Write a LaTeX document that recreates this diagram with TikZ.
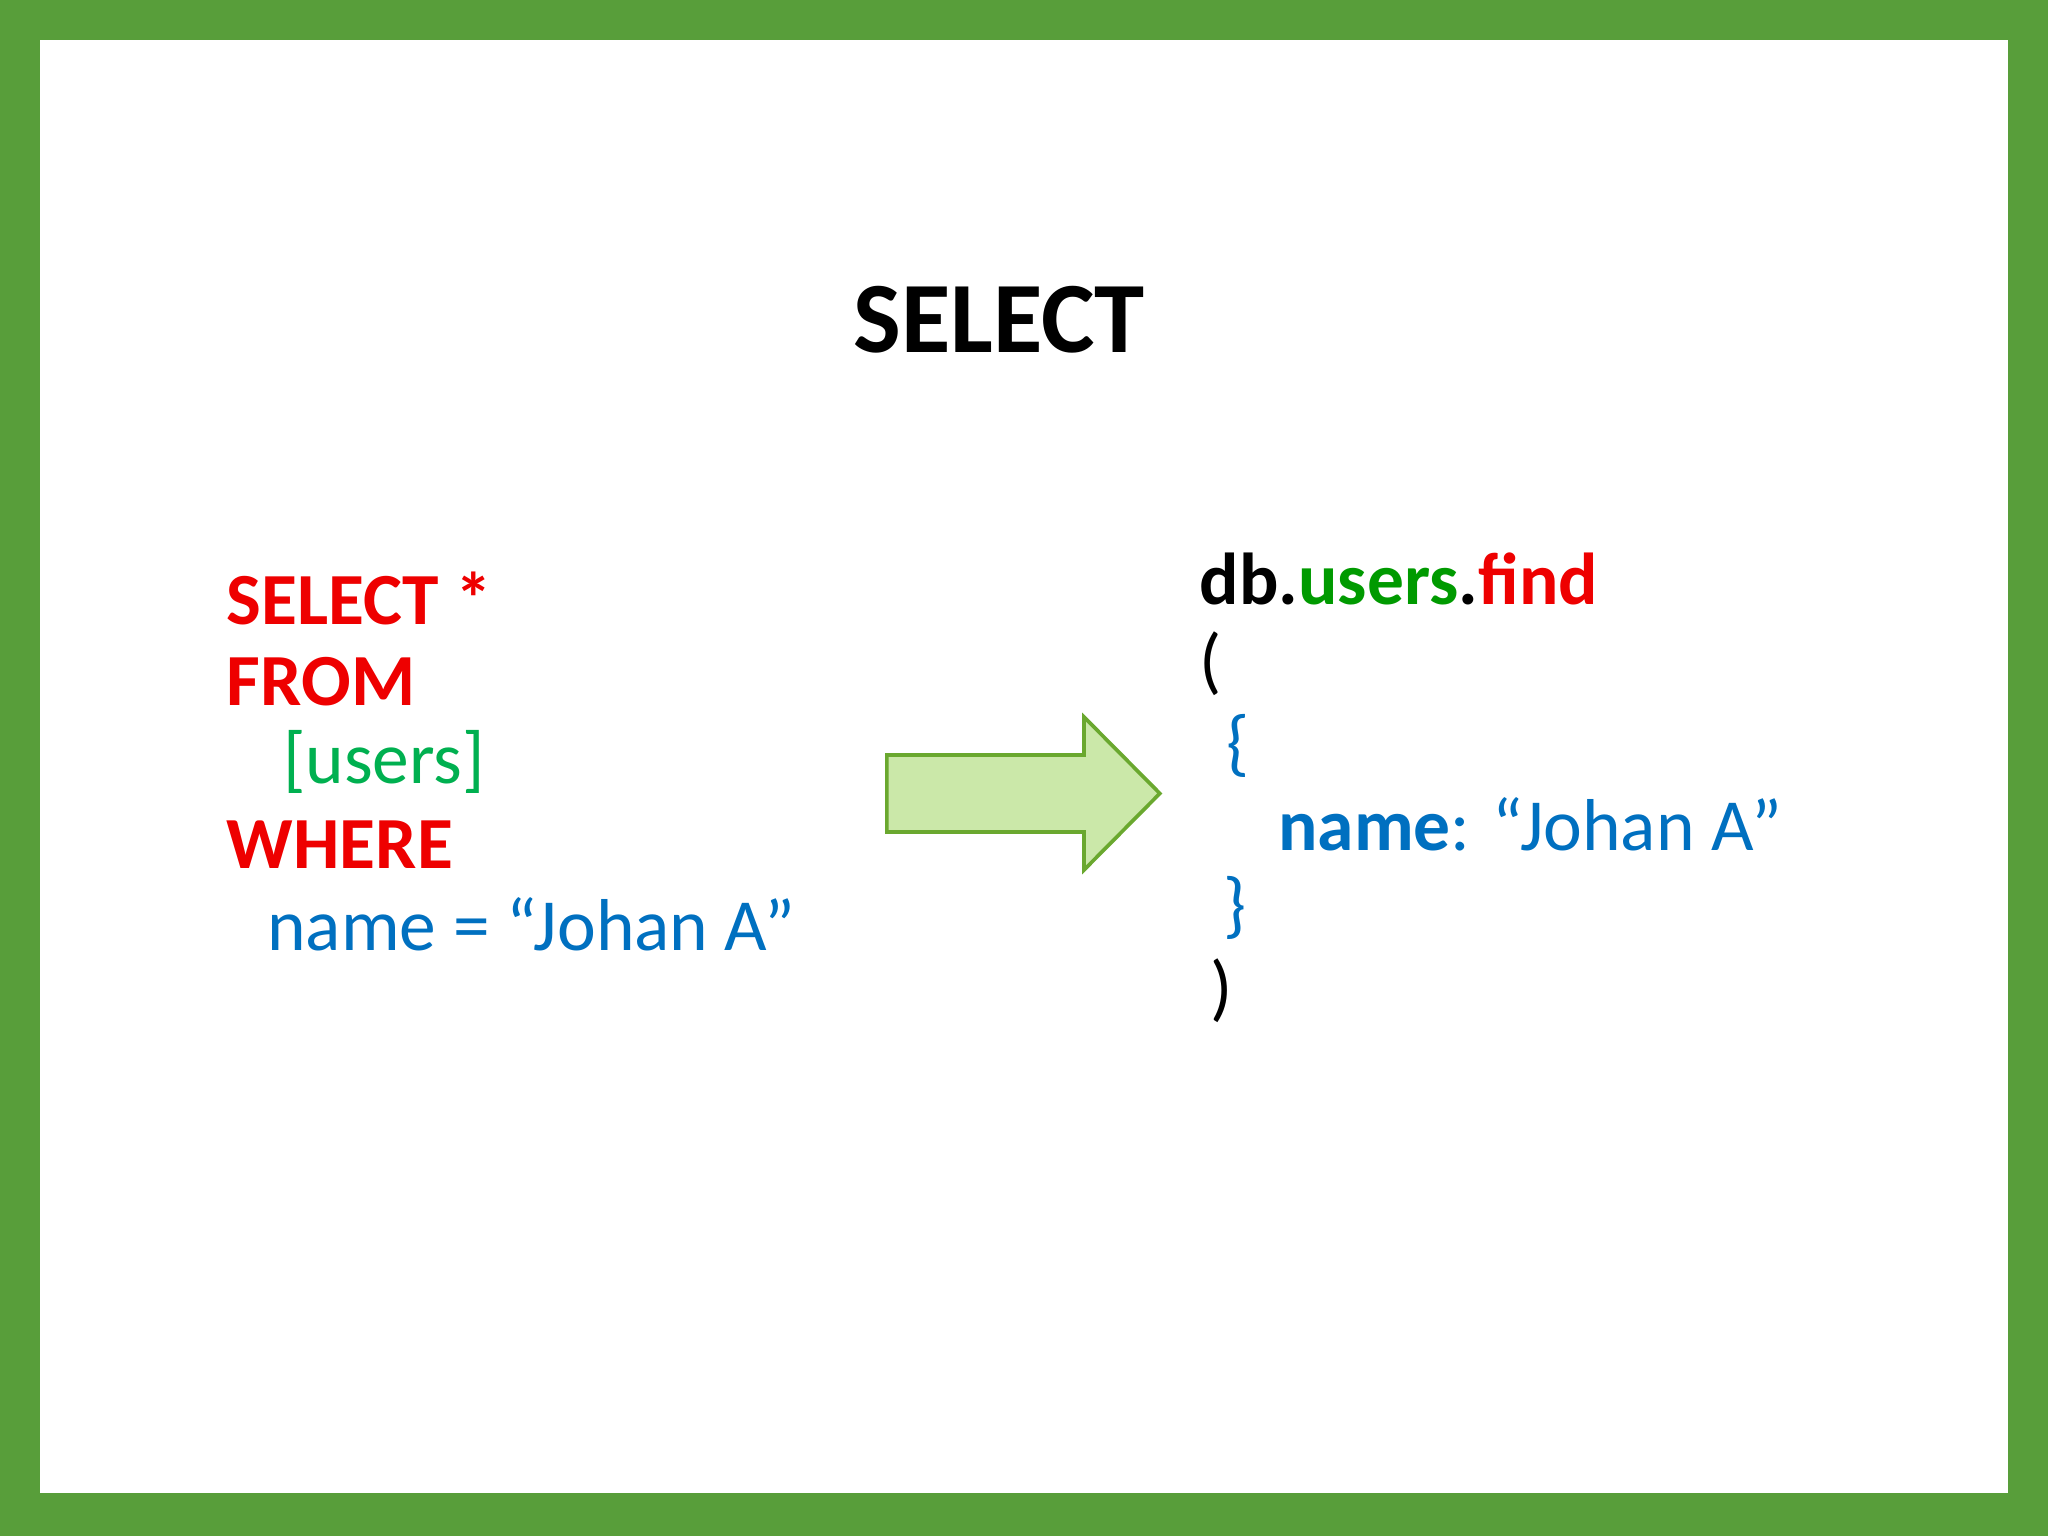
\documentclass[tikz,border=0pt]{standalone}
\usepackage{fontspec}
\setmainfont{Carlito}
\definecolor{frame}{HTML}{589E3A}
\definecolor{sqlred}{HTML}{EE0000}
\definecolor{sqlgreen}{HTML}{00B050}
\definecolor{mgreen}{HTML}{009A00}
\definecolor{mblue}{HTML}{0070C0}
\definecolor{arrowfill}{HTML}{CBE8A9}
\definecolor{arrowline}{HTML}{6AA82F}
\begin{document}
\begin{tikzpicture}[x=0.01cm,y=-0.01cm,
  txt/.style={anchor=base west,inner sep=0pt,font=\fontsize{16}{19}\selectfont}]
\fill[frame] (0,0) rectangle (1568,1176);
\fill[white] (31,31) rectangle (1537,1143);
\useasboundingbox (0,0) rectangle (1568,1176);
\node[anchor=base,inner sep=0pt,font=\fontsize{22}{26}\selectfont\bfseries] (title) at (765,270) {SELECT};
\node[txt,text=sqlred,font=\fontsize{16}{19}\selectfont\bfseries] (l1) at (173,478) {SELECT *};
\node[txt,text=sqlred,font=\fontsize{16}{19}\selectfont\bfseries] (l2) at (173,540) {FROM};
\node[txt,text=sqlgreen] (l3) at (216,600) {[users]};
\node[txt,text=sqlred,font=\fontsize{16}{19}\selectfont\bfseries] (l4) at (173,665) {WHERE};
\node[txt,text=mblue] (l5) at (204,728) {name = “Johan A”};
\draw[fill=arrowfill,draw=arrowline,line width=0.8pt] (679,578) -- (830,578) -- (830,549) -- (888,607.5) -- (830,666) -- (830,637) -- (679,637) -- cycle;
\node[txt,font=\fontsize{16}{19}\selectfont\bfseries] (r1) at (918,463) {db.\textcolor{mgreen}{users}.\textcolor{sqlred}{find}};
\node[txt] (r2) at (918,525) {(};
\node[txt,text=mblue] (r3) at (938,588) {\{};
\node[txt,text=mblue] (r4) at (978,651) {\textbf{name}: “Johan A”};
\node[txt,text=mblue] (r5) at (936,712) {\}};
\node[txt] (r6) at (926,775) {)};
\end{tikzpicture}
\end{document}
